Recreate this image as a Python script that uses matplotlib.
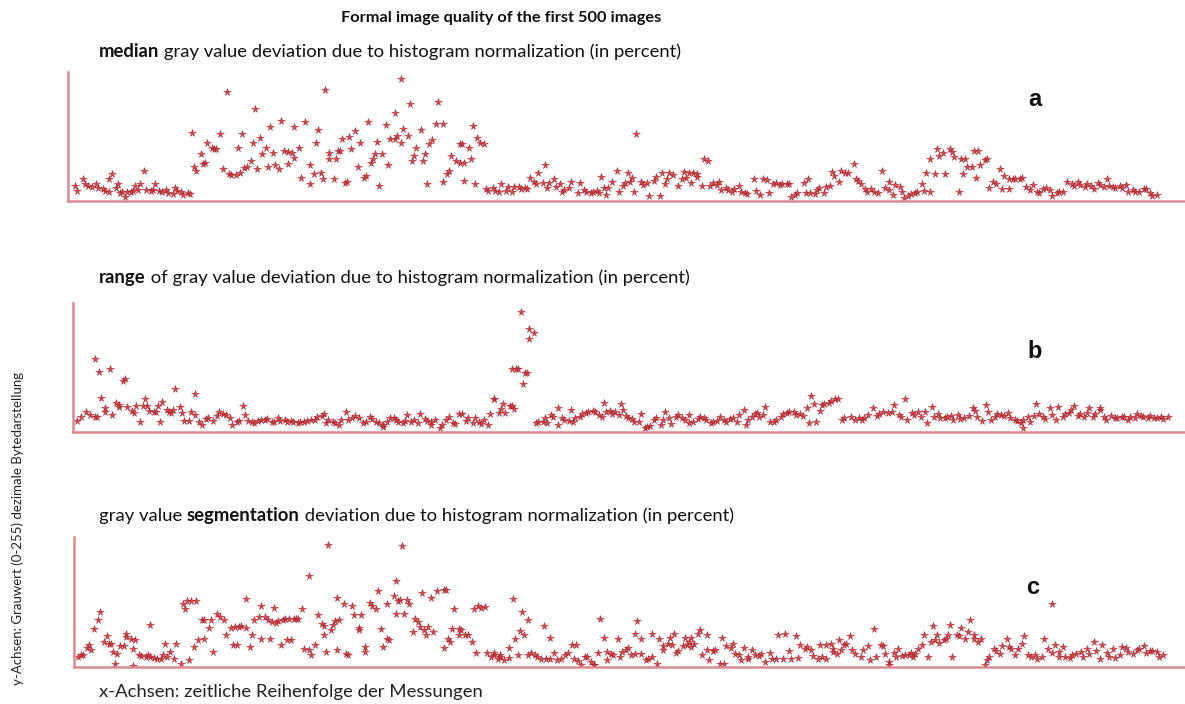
import numpy as np
import matplotlib
matplotlib.use("Agg")
import matplotlib.pyplot as plt

# ---------------- data (image number, deviation value) ----------------
a_x = [2,3,6,7,8,10,12,13,15,16,18,18,19,21,22,23,24,25,26,28,29,30,31,32,34,35,37,38,39,41,42,44,45,47,48,49,51,52,54,55,
       56,57,58,60,61,62,63,65,66,67,69,70,72,73,74,76,77,78,79,80,81,83,84,85,86,87,88,90,91,92,93,94,96,97,98,100,100,102,103,103,
       105,106,108,110,110,112,113,114,115,116,117,119,119,121,122,123,124,125,126,127,128,129,131,132,133,135,136,137,138,139,140,141,142,143,145,146,147,149,149,150,
       152,152,153,155,156,157,158,159,161,162,163,164,165,166,168,169,171,171,173,174,175,177,179,179,
       180,181,183,184,185,187,188,190,181,186,191,192,194,195,197,198,200,201,203,204,206,207,209,210,211,213,214,215,217,218,
       219,220,222,223,225,226,227,229,230,233,234,236,237,239,240,242,243,244,245,246,247,249,251,252,254,255,256,257,258,259,
       260,262,263,265,266,268,269,271,272,273,274,275,277,279,281,282,283,284,285,286,288,288,290,291,293,294,295,297,298,299,
       301,302,304,305,307,308,310,311,314,315,317,318,320,321,323,324,326,327,329,330,331,333,334,337,338,339,340,342,343,344,
       346,347,349,350,351,353,354,356,357,360,361,362,
       363,365,366,368,369,371,373,374,376,376,378,379,381,382,383,385,386,388,389,391,392,393,395,395,397,398,399,401,402,404,
       405,406,408,409,410,411,412,414,415,416,417,418,420,421,422,424,425,427,428,429,431,431,433,434,436,437,439,441,442,444,
       445,447,448,450,451,453,454,456,458,460,461,463,464,466,467,469,470,472,473,475,476,477,479,480,482,483,485,486,488,489,
       491,493,494,496,497,499]
a_y = [13,8,20,15,13,12,15,11,10,8,7,20,26,11,15,6,7,2,7,7,8,13,9,15,29,9,8,9,15,8,7,9,6,5,11,8,7,4,6,5,
       67,33,29,46,36,37,57,52,51,51,66,31,109,26,25,25,52,27,66,32,33,39,57,91,31,62,46,52,33,73,47,35,31,79,49,48,36,47,73,42,
       52,22,78,35,15,26,57,70,27,20,111,41,47,20,41,49,49,61,16,17,63,51,69,33,57,22,24,78,37,41,46,58,13,46,75,35,61,87,61,64,
       122,57,71,64,97,39,44,52,70,39,46,15,56,60,76,99,17,76,26,29,44,39,56,37,
       56,37,52,41,74,62,57,56,18,15,10,8,11,8,7,15,8,12,7,12,12,10,11,10,22,17,15,27,16,35,
       11,16,20,12,15,7,9,11,17,6,16,9,7,6,7,8,6,23,11,4,11,17,29,7,13,16,27,17,22,7,
       66,17,14,16,3,18,23,3,27,15,21,27,25,13,20,28,22,27,16,27,26,23,13,41,39,13,16,14,17,9,
       11,9,7,10,13,7,6,5,20,8,4,21,19,6,15,16,14,15,15,15,2,4,6,16,6,21,6,5,9,11,
       6,12,13,28,24,17,29,27,27,36,20,18,
       15,10,7,10,7,6,29,11,9,17,4,14,12,7,1,3,5,6,7,15,8,27,41,7,26,51,44,47,26,51,
       48,43,7,41,26,41,33,33,49,22,49,35,40,41,11,17,15,31,10,24,21,10,20,21,21,22,12,9,14,7,
       6,10,11,9,3,6,7,7,17,15,13,17,14,12,15,13,10,16,14,12,20,13,12,11,13,11,14,7,9,7,
       7,10,10,6,3,4]

b_x = [1,3,5,7,9,10,9,11,12,14,14,16,17,19,20,20,22,23,24,26,27,28,30,31,32,33,34,36,37,38,
       39,40,42,43,44,45,46,48,49,50,52,53,55,55,57,58,60,61,63,65,66,68,69,71,72,74,75,77,78,79,
       81,82,84,85,87,88,90,91,93,94,96,97,99,100,102,103,105,106,108,110,111,113,114,115,116,118,119,121,122,124,
       125,127,128,130,132,133,135,136,138,139,141,141,143,144,146,147,148,150,151,152,154,155,157,158,160,161,163,163,165,167,
       168,170,171,173,174,176,
       177,179,180,182,183,185,186,187,189,190,192,192,194,195,196,197,199,200,201,200,202,203,204,205,206,207,208,208,210,211,
       212,214,215,216,218,219,221,221,223,224,226,227,228,229,231,232,234,235,237,238,240,241,242,243,245,246,247,249,250,251,
       252,253,255,256,258,259,261,262,263,265,266,268,269,270,272,273,275,276,278,279,281,281,283,285,286,288,289,291,292,294,
       295,297,298,300,301,303,304,306,307,308,310,311,312,313,315,316,318,320,321,323,324,326,327,329,330,332,333,335,336,337,
       338,339,341,342,343,345,346,348,349,351,352,355,357,359,
       360,361,363,365,367,368,370,372,374,375,377,378,380,381,383,384,386,387,389,390,392,393,395,396,398,399,401,402,404,405,
       407,409,411,412,413,415,417,418,419,421,422,424,425,427,428,430,431,433,434,434,436,437,439,440,441,443,444,446,447,449,
       450,452,453,455,456,457,459,460,462,463,464,466,467,469,469,471,472,474,476,477,479,480,482,483,485,486,488,489,491,492,
       494,495,497,498,500]
b_y = [9,13,18,15,13,13,72,59,33,18,22,62,15,28,26,23,50,52,23,19,17,25,8,25,32,24,19,18,18,25,
       8,29,20,18,17,20,42,23,17,9,9,18,37,15,8,5,11,12,9,14,18,16,15,12,5,8,9,24,15,9,
       8,7,9,10,10,11,8,8,12,9,10,8,9,8,7,8,8,9,10,10,13,14,16,7,10,8,7,5,10,18,
       10,12,14,12,7,8,13,11,8,7,5,3,8,12,12,10,8,7,9,15,8,10,7,16,11,9,8,5,10,2,
       5,10,13,7,6,16,
       16,9,12,7,12,8,6,10,5,16,32,32,17,21,27,17,25,25,21,62,62,62,120,47,58,58,102,92,98,7,
       8,8,12,7,15,13,5,22,12,10,9,20,8,12,13,16,17,18,19,18,15,13,28,18,19,16,18,15,27,20,
       14,12,11,8,8,16,2,3,4,10,12,5,10,18,12,6,13,15,12,10,7,15,8,11,13,12,10,7,8,9,
       13,10,8,11,12,8,15,20,5,10,13,16,17,13,15,23,8,8,10,13,16,17,18,18,15,16,14,22,7,35,
       27,8,19,26,27,28,30,32,32,10,12,13,10,12,
       10,12,15,22,14,16,18,17,18,26,15,13,32,10,17,15,18,13,18,7,23,13,16,12,12,13,14,10,15,11,
       12,14,22,19,13,9,26,18,10,13,16,15,14,17,12,10,9,7,2,10,13,8,14,27,16,13,11,22,15,10,
       23,13,16,17,20,25,14,16,13,17,22,13,16,20,22,13,10,14,12,12,13,13,10,13,12,16,14,13,12,14,
       12,12,13,11,13]

c_x = [1,2,3,5,6,7,8,10,11,13,14,15,16,17,18,19,20,22,23,23,25,26,26,27,29,30,32,33,34,34,
       36,37,39,40,41,42,43,45,46,48,49,50,51,52,53,54,55,56,58,59,59,61,62,63,65,66,68,69,71,72,
       73,74,75,76,78,78,80,81,82,84,85,85,87,88,89,90,91,92,93,94,95,96,97,98,99,100,101,102,104,105,
       107,107,108,110,111,113,114,114,115,116,117,118,119,120,120,121,123,124,125,127,128,130,130,131,133,133,135,136,138,139,
       140,141,143,143,144,146,147,147,148,149,150,151,152,153,155,156,157,158,159,160,161,162,163,164,166,169,169,170,171,172,
       173,174,176,176,
       177,179,180,182,183,184,185,186,188,189,191,192,192,194,195,195,197,199,199,201,202,203,204,205,206,208,208,209,211,212,
       214,215,216,218,218,220,221,223,225,226,228,229,230,231,232,234,235,237,238,238,240,241,243,244,244,246,247,249,250,251,
       253,254,255,257,257,258,260,260,262,263,265,265,267,268,270,270,272,273,274,275,276,277,279,280,281,282,283,283,284,286,
       287,288,290,290,291,293,294,296,297,298,299,301,302,303,305,306,307,309,309,311,312,314,315,317,319,320,322,323,325,326,
       328,329,331,332,333,335,336,338,339,341,342,343,345,345,347,348,348,350,351,352,353,354,356,357,358,
       361,362,364,365,367,368,370,371,372,374,374,376,377,378,380,381,383,384,385,386,387,389,390,392,393,394,395,396,397,399,
       400,401,402,403,405,406,407,409,410,411,413,413,415,416,418,419,420,422,423,425,426,428,429,430,432,433,435,436,438,439,
       441,442,444,445,447,449,449,450,452,452,454,455,457,458,460,462,463,465,466,468,469,471,472,474,475,477,478,480,481,483,
       484,486,488,489,491,492,494,495,497,498,500]
c_y = [9,11,11,18,21,16,37,46,54,24,30,22,22,14,2,12,20,20,32,29,27,17,0,26,11,10,9,11,41,9,
       8,7,7,11,22,9,14,7,22,2,63,57,66,6,66,19,66,26,46,27,46,38,46,14,52,49,46,31,38,21,
       39,21,39,40,68,38,19,31,46,49,27,61,49,46,27,44,59,43,45,21,46,47,26,47,26,47,47,47,57,17,
       91,16,11,21,51,42,31,40,14,123,36,41,45,16,69,46,63,12,11,61,51,38,36,51,19,14,64,61,57,76,
       37,19,27,63,26,71,52,86,66,67,122,52,67,63,34,47,44,39,74,36,31,39,69,34,76,18,77,77,27,24,
       37,57,37,31,
       36,31,31,24,57,13,61,59,60,13,9,11,13,7,11,9,6,18,8,68,27,11,35,54,31,46,11,13,11,9,
       7,40,7,28,7,13,6,7,11,13,21,7,21,5,1,9,9,4,1,1,13,47,28,6,14,12,11,27,9,14,
       16,18,11,32,12,45,12,27,6,7,9,32,2,27,20,16,22,28,21,32,13,15,20,28,21,24,28,19,22,32,
       36,11,16,31,6,15,16,2,28,2,20,18,22,12,11,6,18,7,9,16,11,10,12,4,13,7,7,31,7,32,
       15,7,30,8,21,17,19,16,10,7,21,9,7,21,22,17,14,12,26,16,21,22,30,16,12,
       9,16,20,6,37,9,21,20,12,4,1,13,9,17,10,11,11,13,9,12,17,21,31,9,24,40,26,31,23,26,
       27,31,41,9,31,30,38,27,34,46,27,31,24,27,1,6,9,17,15,12,20,27,19,17,11,17,22,30,11,9,
       11,7,9,27,17,13,63,21,9,14,19,9,8,11,12,14,9,17,12,24,15,7,21,13,9,17,8,11,19,18,
       14,12,16,17,20,13,15,15,14,9,11]

panel_titles = [
    [("median", True), (" gray value deviation due to histogram normalization (in percent)", False)],
    [("range", True), (" of gray value deviation due to histogram normalization (in percent)", False)],
    [("gray value ", False), ("segmentation", True), (" deviation due to histogram normalization (in percent)", False)],
]
panel_letters = ["a", "b", "c"]
main_title = "Formal image quality of the first 500 images"
y_note = "y-Achsen: Grauwert (0-255) dezimale Bytedarstellung"
x_note = "x-Achsen: zeitliche Reihenfolge der Messungen"

# ---------------- figure ----------------
W, H = 1185, 704
fig = plt.figure(figsize=(W / 100, H / 100), dpi=100)
plt.rcParams['font.family'] = ['Lato', 'DejaVu Sans']

def fx(px):
    return px / W

def fy(py):
    return 1 - py / H

spine_col = '#d98b90'
pt_col = '#d0343d'
pt_edge = '#a52029'

# axes rectangles (left, top, bottom) in pixels, plus x range in images
rects = [(68, 72, 200.7, 512), (72.7, 302.7, 431.7, 508), (74, 536.7, 667, 510)]
datasets = [(a_x, a_y, 129), (b_x, b_y, 129), (c_x, c_y, 131)]

axes = []
for (l, t, b, xmax), (xs, ys, ymax) in zip(rects, datasets):
    ax = fig.add_axes([fx(l), fy(b), 1 - fx(l), (b - t) / H])
    ax.plot(xs, ys, linestyle='none', marker='*', markersize=5.5,
            markerfacecolor=pt_col, markeredgecolor=pt_edge, markeredgewidth=0.4, alpha=0.9)
    ax.set_xlim(-1, xmax)
    ax.set_ylim(-1.5, ymax)
    for s in ['top', 'right']:
        ax.spines[s].set_visible(False)
    for s in ['left', 'bottom']:
        ax.spines[s].set_color(spine_col)
        ax.spines[s].set_linewidth(1.8)
    ax.set_xticks([])
    ax.set_yticks([])
    ax.patch.set_alpha(0)
    axes.append(ax)

fs_sub = 13.3
fig.text(fx(501), fy(18), main_title, ha='center', va='center', fontsize=11.8,
         fontweight='bold', color='#111111')

def place(parts, x, y):
    t = fig.text(fx(x), fy(y), parts[0][0], ha='left', va='baseline', fontsize=fs_sub,
                 fontweight='bold' if parts[0][1] else 'normal', color='#111111')
    for txt, bold in parts[1:]:
        t = axes[0].annotate(txt, xy=(1, 0), xycoords=t, ha='left', va='bottom',
                             fontsize=fs_sub, fontweight='bold' if bold else 'normal',
                             color='#111111', annotation_clip=False)

for parts, yy in zip(panel_titles, [57, 283, 521]):
    place(parts, 99, yy)

for letter, (lx, ly) in zip(panel_letters, [(1035, 100), (1035, 352), (1033, 588)]):
    fig.text(fx(lx), fy(ly), letter, ha='center', va='center', fontsize=17, fontweight='bold',
             color='#111111', family='Liberation Sans')

fig.text(fx(18), fy(528), y_note, rotation=90, ha='center', va='center', fontsize=9.5,
         color='#222222')
fig.text(fx(99), fy(697), x_note, ha='left', va='baseline', fontsize=fs_sub, color='#222222')

fig.savefig('out.png', dpi=100)
